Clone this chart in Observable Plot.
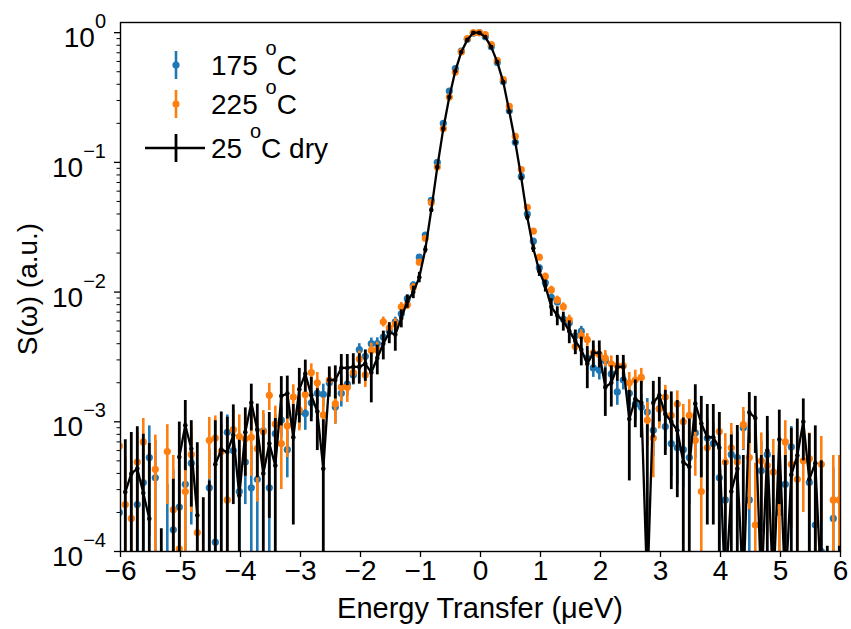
<!DOCTYPE html>
<html><head><meta charset="utf-8">
<script src="https://cdn.jsdelivr.net/npm/d3@7"></script>
<script src="https://cdn.jsdelivr.net/npm/@observablehq/plot@0.6"></script>
<style>
body{margin:0;background:#fff}
</style>
</head><body><div id="chart"></div>
<script>
const FONT = '"Liberation Sans", Arial, sans-serif';
const BLUE = "#1f77b4", ORANGE = "#ff7f0e", BLACK = "#000000";

const energy = [-6.02,-5.92,-5.82,-5.72,-5.62,-5.52,-5.42,-5.32,-5.22,-5.12,
-5.02,-4.92,-4.82,-4.72,-4.62,-4.52,-4.42,-4.32,-4.22,-4.12,
-4.02,-3.92,-3.82,-3.72,-3.62,-3.52,-3.42,-3.32,-3.22,-3.12,
-3.02,-2.92,-2.82,-2.72,-2.62,-2.52,-2.42,-2.32,-2.22,-2.12,
-2.02,-1.92,-1.82,-1.72,-1.62,-1.52,-1.42,-1.32,-1.22,-1.12,
-1.02,-0.92,-0.82,-0.72,-0.62,-0.52,-0.42,-0.32,-0.22,-0.12,
-0.02,0.08,0.18,0.28,0.38,0.48,0.58,0.68,0.78,0.88,
0.98,1.08,1.18,1.28,1.38,1.48,1.58,1.68,1.78,1.88,
1.98,2.08,2.18,2.28,2.38,2.48,2.58,2.68,2.78,2.88,
2.98,3.08,3.18,3.28,3.38,3.48,3.58,3.68,3.78,3.88,
3.98,4.08,4.18,4.28,4.38,4.48,4.58,4.68,4.78,4.88,
4.98,5.08,5.18,5.28,5.38,5.48,5.58,5.68,5.78,5.88,5.98];

// 175 oC
const s175 = [2.0e-4,null,null,2.3e-4,3.4e-4,5.3e-4,3.7e-4,null,8e-5,1.47e-4,
2.2e-4,3.3e-4,4.8e-4,null,null,3.1e-4,1.18e-4,null,8.3e-4,6.0e-4,
2.9e-4,4.9e-4,3.1e-4,3.6e-4,8.5e-4,3.1e-4,8.1e-4,1.03e-3,6.1e-4,null,
1.19e-3,1.16e-3,1.4e-3,1.66e-3,1.63e-3,2.0e-3,1.3e-3,1.66e-3,1.95e-3,2.3e-3,
3.6e-3,3.2e-3,4.0e-3,4.0e-3,4.5e-3,5.0e-3,5.9e-3,6.8e-3,8.9e-3,1.13e-2,
1.86e-2,2.75e-2,5.1e-2,0.10,0.20,0.355,0.528,0.72,0.89,0.99,
1.0,0.93,0.78,0.59,0.42,0.25,0.143,0.078,0.040,0.0247,
0.0154,0.0118,9.1e-3,8.4e-3,6.2e-3,5.8e-3,4.6e-3,5.0e-3,3.1e-3,2.6e-3,
2.5e-3,2.96e-3,2.34e-3,1.7e-3,2.1e-3,1.66e-3,1.37e-3,1.3e-3,1.19e-3,8.6e-4,
1.26e-3,9.2e-4,6.8e-4,6.3e-4,6.1e-4,5.3e-4,8.2e-4,null,7.5e-4,6.8e-4,
3.7e-4,2.5e-4,5.6e-4,5.3e-4,9.0e-4,2.5e-4,null,4.2e-4,5.6e-4,null,
2.0e-4,3.3e-4,6.4e-4,null,null,3.4e-4,1.6e-4,1.0e-4,null,1.8e-4,null];
const e175 = [2.5e-4,0,0,2.8e-4,3.2e-4,4.0e-4,3.5e-4,0,2.5e-4,2.8e-4,
3.0e-4,3.0e-4,3.2e-4,0,0,3.0e-4,3.0e-4,0,3.0e-4,3.0e-4,
3.2e-4,2.6e-4,3.4e-4,3.5e-4,3.0e-4,3.4e-4,3.2e-4,2.8e-4,2.4e-4,0,
3.0e-4,3.0e-4,3.2e-4,3.2e-4,3.2e-4,3.4e-4,3.4e-4,3.6e-4,3.6e-4,3.8e-4,
4.0e-4,4.0e-4,4.2e-4,4.4e-4,4.6e-4,4.8e-4,5.0e-4,5.5e-4,6.0e-4,7.0e-4,
8e-4,1e-3,1.3e-3,1.8e-3,2.5e-3,3e-3,3.5e-3,4e-3,4e-3,4.5e-3,
4.5e-3,4.5e-3,4e-3,4e-3,3.5e-3,3e-3,2.5e-3,1.8e-3,1.3e-3,1e-3,
8e-4,7e-4,6e-4,5.5e-4,5e-4,5e-4,4.6e-4,4.4e-4,4.2e-4,4.0e-4,
4.0e-4,3.8e-4,3.6e-4,3.6e-4,3.4e-4,3.4e-4,3.4e-4,3.2e-4,3.2e-4,3.2e-4,
3.2e-4,3.2e-4,3.0e-4,3.0e-4,3.0e-4,3.0e-4,3.0e-4,0,3.0e-4,3.0e-4,
3.0e-4,2.8e-4,2.8e-4,3.0e-4,3.0e-4,2.8e-4,0,2.8e-4,2.8e-4,0,
2.8e-4,2.8e-4,2.8e-4,0,0,2.8e-4,2.8e-4,2.6e-4,0,2.6e-4,0];

// 225 oC
const s225 = [6.5e-4,2.3e-4,1.8e-4,4.9e-4,7.0e-4,null,4.3e-4,null,5.9e-4,2.1e-4,
1.05e-4,2.9e-4,5.6e-4,1.4e-4,null,7.2e-4,7.5e-4,5.9e-4,2.5e-4,8.7e-4,
7.7e-4,7.4e-4,7.6e-4,6.2e-4,8.4e-4,1.6e-3,9.6e-4,6.8e-4,9.3e-4,1.55e-3,
1.23e-3,1.62e-3,2.4e-3,2.0e-3,1.13e-3,2.1e-3,1.38e-3,1.85e-3,1.85e-3,2.4e-3,
3.05e-3,2.3e-3,3.55e-3,3.6e-3,5.9e-3,5.3e-3,5.7e-3,7.7e-3,8.0e-3,1.09e-2,
1.7e-2,2.6e-2,4.9e-2,9.2e-2,0.182,0.319,0.497,0.71,0.90,1.0,
1.0,0.965,0.81,0.61,0.434,0.27,0.159,0.088,0.045,0.0295,
0.0186,0.0132,0.0104,8.7e-3,7.7e-3,6.1e-3,3.8e-3,4.6e-3,4.3e-3,3.4e-3,
3.3e-3,3.1e-3,2.8e-3,2.7e-3,2.7e-3,2.0e-3,2.1e-3,2.2e-3,1.03e-3,7.5e-4,
1.26e-3,1.55e-3,1.12e-3,1.37e-3,1.0e-3,1.12e-3,7.2e-4,2.9e-4,6.3e-4,null,
8.4e-4,4.9e-4,6.3e-4,4.9e-4,9.5e-4,5.3e-4,1.6e-4,5.0e-4,4.6e-4,4.1e-4,
2.5e-4,7.0e-4,4.7e-4,3.6e-4,5.0e-4,5.2e-4,9e-5,4.7e-4,null,2.5e-4,2.5e-4];
const e225 = [3.0e-4,3.0e-4,3.2e-4,3.4e-4,3.6e-4,0,3.6e-4,0,3.6e-4,3.4e-4,
3.2e-4,3.4e-4,3.6e-4,3.2e-4,0,3.6e-4,3.6e-4,3.6e-4,3.4e-4,3.6e-4,
3.6e-4,3.6e-4,3.8e-4,3.8e-4,3.8e-4,3.8e-4,3.6e-4,3.8e-4,4.0e-4,3.8e-4,
3.8e-4,3.8e-4,4.0e-4,4.0e-4,4.0e-4,4.2e-4,4.2e-4,4.2e-4,4.4e-4,4.4e-4,
4.6e-4,4.6e-4,4.8e-4,5.0e-4,5.2e-4,5.4e-4,5.6e-4,6.0e-4,6.5e-4,7.5e-4,
8e-4,1e-3,1.3e-3,1.8e-3,2.5e-3,3e-3,3.5e-3,4e-3,4e-3,4.5e-3,
4.5e-3,4.5e-3,4e-3,4e-3,3.5e-3,3e-3,2.5e-3,1.8e-3,1.3e-3,1e-3,
9e-4,8e-4,7e-4,6e-4,5.6e-4,5.4e-4,5.2e-4,5.0e-4,4.8e-4,4.6e-4,
4.6e-4,4.4e-4,4.2e-4,4.2e-4,4.0e-4,4.0e-4,4.0e-4,3.8e-4,3.8e-4,3.8e-4,
3.8e-4,3.6e-4,3.6e-4,3.6e-4,3.6e-4,3.6e-4,3.4e-4,3.4e-4,3.4e-4,0,
3.4e-4,3.2e-4,3.4e-4,3.2e-4,3.4e-4,3.2e-4,3.2e-4,3.2e-4,3.2e-4,3.2e-4,
3.2e-4,3.2e-4,3.2e-4,3.0e-4,3.0e-4,3.0e-4,3.0e-4,3.0e-4,0,3.0e-4,3.0e-4];

// 25 oC dry (negative = masked on the log axis, only its error bar is drawn)
const sDry = [null,2.87e-4,3.98e-4,4.35e-4,2.82e-4,1.79e-4,null,-3e-4,null,-1e-4,
5.35e-4,9.4e-4,6.2e-4,1.9e-4,-2e-4,-1.5e-4,4.7e-4,6.1e-4,5.85e-4,7.9e-4,
2.7e-4,8.3e-4,1.4e-3,8.7e-4,4.0e-4,6.8e-4,4.6e-4,1.58e-3,1.65e-3,7.6e-4,
1.78e-3,2.34e-3,1.6e-3,1.2e-3,4.35e-4,2.1e-3,2.1e-3,2.6e-3,2.6e-3,2.65e-3,
2.65e-3,2.8e-3,2.4e-3,3.1e-3,4.0e-3,4.9e-3,4.7e-3,6.3e-3,8.5e-3,1.0e-2,
1.3e-2,2.13e-2,4.3e-2,9.2e-2,0.182,0.319,0.506,0.71,0.88,1.0,
1.0,0.925,0.774,0.593,0.416,0.247,0.143,0.0757,0.0377,0.0218,
0.0145,0.0112,7.7e-3,6.6e-3,6.0e-3,5.0e-3,4.2e-3,3.6e-3,2.8e-3,3.4e-3,
3.4e-3,1.85e-3,2.0e-3,2.65e-3,2.65e-3,1.05e-3,1.5e-3,1.4e-3,5e-5,1.4e-3,
1.6e-3,1.15e-3,1.0e-3,8.6e-4,4.9e-4,4.5e-4,1.38e-3,9.7e-4,7.6e-4,7.6e-4,
6.3e-4,5e-5,2.9e-4,4.35e-4,5e-5,1.18e-3,1.07e-3,5e-5,6.0e-4,5e-5,
7.3e-4,5e-5,3.9e-4,5.5e-4,1.0e-3,3.6e-4,4.8e-4,5e-5,-3e-4,null,-3e-4];
const eDry = [0,4.4e-4,4.3e-4,4.8e-4,5.2e-4,5.0e-4,0,4.5e-4,0,4.6e-4,
4.6e-4,5.2e-4,4.0e-4,5.0e-4,4.6e-4,5.0e-4,5.5e-4,5.8e-4,5.0e-4,5.6e-4,
4.5e-4,4.5e-4,5.5e-4,5.0e-4,4.6e-4,5.0e-4,6.0e-4,6.5e-4,6.0e-4,6.0e-4,
8.0e-4,6.5e-4,6.0e-4,6.0e-4,6.0e-4,5.5e-4,6.0e-4,7.0e-4,7.0e-4,7.0e-4,
7.0e-4,7.5e-4,1.0e-3,8.0e-4,1.0e-3,9.0e-4,1.2e-3,1.0e-3,1.0e-3,1.1e-3,
1.2e-3,1.3e-3,1.6e-3,2.0e-3,3.0e-3,4.0e-3,5.0e-3,6.0e-3,6.0e-3,7.0e-3,
7.0e-3,7.0e-3,6.0e-3,6.0e-3,5.0e-3,4.0e-3,3.0e-3,2.5e-3,2.0e-3,1.6e-3,
1.3e-3,1.2e-3,1.2e-3,1.1e-3,1.0e-3,1.0e-3,9.0e-4,9.0e-4,1.0e-3,8.0e-4,
8.0e-4,7.5e-4,7.0e-4,6.0e-4,6.0e-4,7.0e-4,6.0e-4,6.5e-4,9.0e-4,6.5e-4,
6.0e-4,6.0e-4,7.0e-4,6.0e-4,5.8e-4,6.0e-4,5.5e-4,6.0e-4,6.0e-4,6.0e-4,
5.5e-4,4.5e-4,5.0e-4,5.0e-4,5.0e-4,5.0e-4,5.0e-4,5.0e-4,5.0e-4,5.0e-4,
5.0e-4,5.0e-4,5.0e-4,5.0e-4,5.0e-4,4.5e-4,4.5e-4,4.5e-4,4.1e-4,0,4.1e-4];

const seriesNames = ["175 °C", "225 °C", "25 °C dry"];
const xTicks = [-6,-5,-4,-3,-2,-1,0,1,2,3,4,5,6];
const yTicks = [1e-4,1e-3,1e-2,1e-1,1];
const yTickExp = ["−4","−3","−2","−1","0"];
const yMinor = [2e-4,3e-4,4e-4,5e-4,6e-4,7e-4,8e-4,9e-4,2e-3,3e-3,4e-3,5e-3,6e-3,7e-3,8e-3,9e-3,
2e-2,3e-2,4e-2,5e-2,6e-2,7e-2,8e-2,9e-2,2e-1,3e-1,4e-1,5e-1,6e-1,7e-1,8e-1,9e-1];

function rows(vals, errs) {
  return energy.map((x, i) => ({x, v: vals[i], e: errs[i]})).filter(d => d.v !== null);
}
function bars(r) {
  return r.filter(d => d.e > 0 && d.v + d.e > 0)
          .map(d => ({x: d.x, lo: Math.max(d.v - d.e, 1e-7), hi: d.v + d.e}));
}
const r175 = rows(s175, e175), r225 = rows(s225, e225), rDry = rows(sDry, eDry);
const lineDry = energy.map((x, i) => ({x, y: (sDry[i] !== null && sDry[i] > 0) ? sDry[i] : NaN}));

const chart = Plot.plot({
  width: 851, height: 629,
  marginLeft: 120, marginRight: 11, marginTop: 22, marginBottom: 78,
  style: {fontFamily: FONT, fontSize: "28px", color: "#000", background: "#fff", overflow: "visible"},
  x: {domain: [-6, 6]},
  y: {type: "log", domain: [1e-4, 1.198]},
  marks: [
    Plot.ruleX(bars(r175), {x: "x", y1: "lo", y2: "hi", stroke: BLUE, strokeWidth: 2.6, clip: true}),
    Plot.dot(r175.filter(d => d.v > 0), {x: "x", y: "v", r: 3.6, fill: BLUE, stroke: "none", clip: true}),
    Plot.ruleX(bars(r225), {x: "x", y1: "lo", y2: "hi", stroke: ORANGE, strokeWidth: 2.6, clip: true}),
    Plot.dot(r225.filter(d => d.v > 0), {x: "x", y: "v", r: 3.6, fill: ORANGE, stroke: "none", clip: true}),
    Plot.ruleX(bars(rDry), {x: "x", y1: "lo", y2: "hi", stroke: BLACK, strokeWidth: 2.8, clip: true}),
    Plot.line(lineDry, {x: "x", y: "y", stroke: BLACK, strokeWidth: 2.3, clip: true}),
    Plot.dot(rDry.filter(d => d.v > 0), {x: "x", y: "v", r: 2.3, fill: BLACK, stroke: "none", clip: true}),
    Plot.frame({stroke: "#000", strokeWidth: 1.4}),
    Plot.axisX({ticks: xTicks, tickSize: 6, tickPadding: 3, strokeWidth: 1.3, label: null,
      tickFormat: d => d < 0 ? "−" + Math.abs(d) : String(d), fontSize: 28}),
    Plot.axisY({ticks: yTicks, tickSize: 6, strokeWidth: 1.3, label: null, tickFormat: () => ""}),
    Plot.axisY({ticks: yMinor, tickSize: 3.5, strokeWidth: 1, label: null, tickFormat: () => ""})
  ]
});
document.getElementById("chart").appendChild(chart);

const svg = d3.select(chart);
const yScale = chart.scale("y");
const yPos = v => (yScale && typeof yScale.apply === "function")
  ? yScale.apply(v)
  : 551 - (Math.log10(v) + 4) / (Math.log10(1.198) + 4) * 529;

// y tick labels: 10 with a superscript exponent
yTicks.forEach((v, i) => {
  const t = svg.append("text").attr("x", 106).attr("y", yPos(v) + 15)
    .attr("text-anchor", "end").attr("font-family", FONT).attr("font-size", 28).attr("fill", "#000");
  t.append("tspan").text("10");
  t.append("tspan").attr("dy", -19).attr("font-size", 20).text(yTickExp[i]);
});

// axis titles
svg.append("text").attr("x", 480).attr("y", 618).attr("text-anchor", "middle")
  .attr("font-family", FONT).attr("font-size", 29).attr("fill", "#000")
  .text("Energy Transfer (μeV)");
svg.append("text").attr("transform", "translate(37,289) rotate(-90)").attr("text-anchor", "middle")
  .attr("font-family", FONT).attr("font-size", 28).attr("fill", "#000")
  .text("S(ω) (a.u.)");

// legend
const colors = [BLUE, ORANGE, BLACK];
const rowsY = [65, 104, 148];
const lg = svg.append("g").attr("font-family", FONT).attr("font-size", 28).attr("fill", "#000");
seriesNames.forEach((name, i) => {
  const cy = rowsY[i];
  if (i === 2) {
    lg.append("line").attr("x1", 145).attr("x2", 205).attr("y1", cy).attr("y2", cy)
      .attr("stroke", BLACK).attr("stroke-width", 2.3);
    lg.append("line").attr("x1", 176).attr("x2", 176).attr("y1", cy - 14).attr("y2", cy + 14)
      .attr("stroke", BLACK).attr("stroke-width", 2.8);
  } else {
    lg.append("line").attr("x1", 176).attr("x2", 176).attr("y1", cy - 14).attr("y2", cy + 14)
      .attr("stroke", colors[i]).attr("stroke-width", 2.6);
    lg.append("circle").attr("cx", 176).attr("cy", cy).attr("r", 3.6).attr("fill", colors[i]);
  }
  const parts = name.split("°");
  const t = lg.append("text").attr("x", 211).attr("y", cy + 10).attr("text-anchor", "start");
  t.append("tspan").text(parts[0]);
  t.append("tspan").attr("dy", -20).attr("font-size", 20).text("o");
  t.append("tspan").attr("dy", 20).text(parts[1]);
});
</script>
</body></html>
